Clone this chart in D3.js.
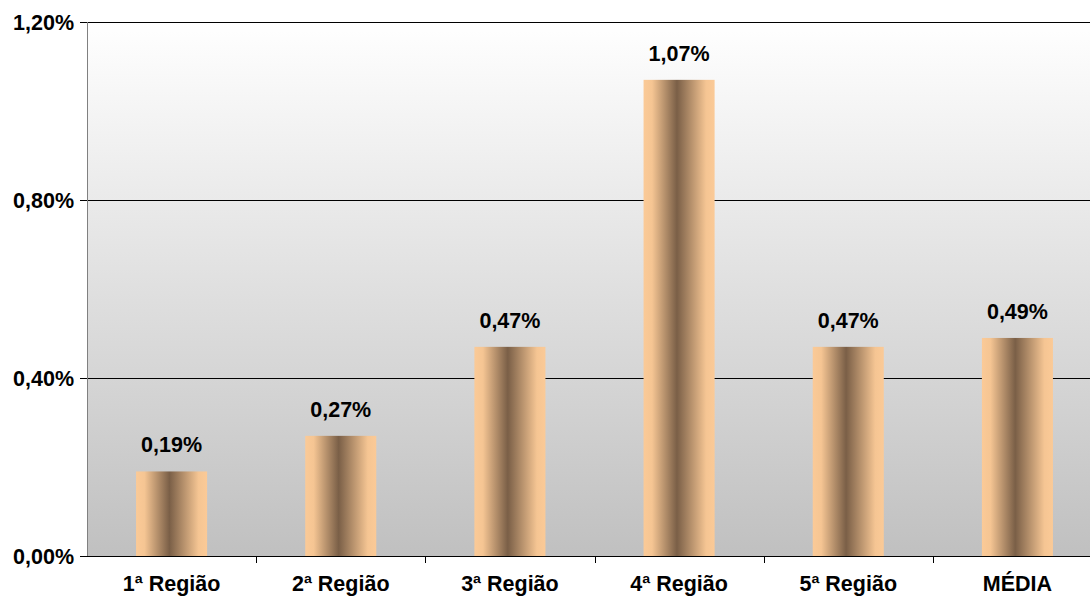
<!DOCTYPE html>
<html>
<head>
    <script src="https://cdnjs.cloudflare.com/ajax/libs/d3/7.8.5/d3.min.js"></script>
    <style>
        body { margin: 0; background: #fff; }
        text { font-family: "Liberation Sans", Arial, sans-serif; font-weight: bold; fill: #000; }
    </style>
</head>
<body>
    <div id="chart"></div>
    <script>
        const categories = ['1ª Região', '2ª Região', '3ª Região', '4ª Região', '5ª Região', 'MÉDIA'];
        const values = [0.19, 0.27, 0.47, 1.07, 0.47, 0.49];
        const yTicks = [0, 0.4, 0.8, 1.2];

        const W = 1090, H = 597;
        const margin = { top: 22, right: -12, bottom: 41, left: 87 };
        const width = W - margin.left - margin.right;
        const height = H - margin.top - margin.bottom;
        const fontSize = '21.5px';

        const fmt = v => d3.format('.2f')(v).replace('.', ',') + '%';

        const svg = d3.select('#chart').append('svg')
            .attr('width', W)
            .attr('height', H);

        const defs = svg.append('defs');
        const bg = defs.append('linearGradient').attr('id', 'bg')
            .attr('x1', 0).attr('y1', 0).attr('x2', 0).attr('y2', 1);
        bg.append('stop').attr('offset', '0%').attr('stop-color', '#ffffff');
        bg.append('stop').attr('offset', '100%').attr('stop-color', '#c0c0c0');

        const barGrad = defs.append('linearGradient').attr('id', 'bar')
            .attr('x1', 0).attr('y1', 0).attr('x2', 1).attr('y2', 0);
        barGrad.append('stop').attr('offset', '0%').attr('stop-color', '#fbca97');
        barGrad.append('stop').attr('offset', '12%').attr('stop-color', '#f5c593');
        barGrad.append('stop').attr('offset', '47%').attr('stop-color', '#7a5f47');
        barGrad.append('stop').attr('offset', '88%').attr('stop-color', '#f5c593');
        barGrad.append('stop').attr('offset', '100%').attr('stop-color', '#fbca97');

        const g = svg.append('g')
            .attr('transform', `translate(${margin.left},${margin.top})`);

        const x = d3.scaleBand()
            .domain(categories)
            .range([0, width])
            .paddingInner(0.58)
            .paddingOuter(0.29);

        const y = d3.scaleLinear()
            .domain([0, 1.2])
            .range([height, 0]);

        // plot background
        g.append('rect')
            .attr('width', width)
            .attr('height', height)
            .attr('fill', 'url(#bg)');

        // gridlines
        g.append('g')
            .selectAll('line')
            .data(yTicks.filter(d => d > 0))
            .join('line')
            .attr('x1', 0)
            .attr('x2', width)
            .attr('y1', d => Math.round(y(d)) + 0.5)
            .attr('y2', d => Math.round(y(d)) + 0.5)
            .attr('stroke', '#000');

        // bars
        g.selectAll('.bar')
            .data(values)
            .join('rect')
            .attr('class', 'bar')
            .attr('x', (d, i) => x(categories[i]))
            .attr('y', d => y(d))
            .attr('width', x.bandwidth())
            .attr('height', d => height - y(d))
            .attr('fill', 'url(#bar)');

        // value labels
        g.selectAll('.val')
            .data(values)
            .join('text')
            .attr('class', 'val')
            .attr('x', (d, i) => x(categories[i]) + x.bandwidth() / 2)
            .attr('y', d => y(d) - 19)
            .attr('text-anchor', 'middle')
            .style('font-size', fontSize)
            .text(d => fmt(d));

        // y axis
        const yAxis = g.append('g')
            .call(d3.axisLeft(y).tickValues(yTicks).tickSize(7).tickPadding(6).tickFormat(fmt));
        yAxis.attr('font-family', null).attr('font-size', null);
        yAxis.select('.domain').attr('stroke', '#808080').attr('d', `M0.5,0V${height}`);
        yAxis.selectAll('.tick line').attr('stroke', '#000');
        yAxis.selectAll('.tick text')
            .style('font-size', fontSize)
            .style('font-weight', 'bold')
            .attr('dy', '0.36em');

        // x axis
        const step = x.step();
        const bounds = d3.range(1, categories.length + 1).map(i => i * step);
        const xg = g.append('g').attr('transform', `translate(0,${height})`);
        xg.append('line')
            .attr('x1', 0).attr('x2', width)
            .attr('y1', 0.5).attr('y2', 0.5)
            .attr('stroke', '#000');
        xg.selectAll('.xt')
            .data(bounds)
            .join('line')
            .attr('class', 'xt')
            .attr('x1', d => Math.round(d) + 0.5)
            .attr('x2', d => Math.round(d) + 0.5)
            .attr('y1', 0).attr('y2', 7)
            .attr('stroke', '#000');
        xg.selectAll('.xl')
            .data(categories)
            .join('text')
            .attr('class', 'xl')
            .attr('x', d => x(d) + x.bandwidth() / 2)
            .attr('y', 35)
            .attr('text-anchor', 'middle')
            .style('font-size', fontSize)
            .text(d => d);
    </script>
</body>
</html>
